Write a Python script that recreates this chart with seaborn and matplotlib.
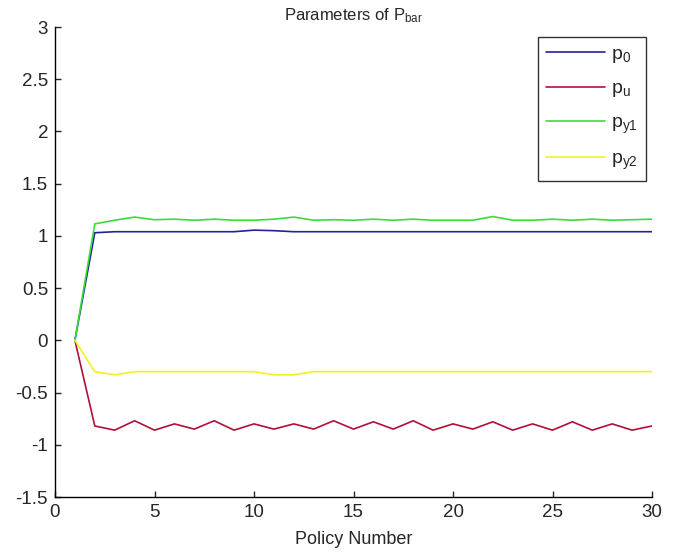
import numpy as np
import pandas as pd
import matplotlib
matplotlib.use("Agg")
import matplotlib.pyplot as plt
import seaborn as sns

# Dados (politicas 1..30)
policy = list(range(1, 31))
p_0 = [0, 1.03, 1.04, 1.04, 1.04, 1.04, 1.04, 1.04, 1.04, 1.055,
       1.05, 1.04, 1.04, 1.04, 1.04, 1.04, 1.04, 1.04, 1.04, 1.04,
       1.04, 1.04, 1.04, 1.04, 1.04, 1.04, 1.04, 1.04, 1.04, 1.04]
p_u = [0, -0.82, -0.86, -0.77, -0.86, -0.80, -0.85, -0.77, -0.86, -0.80,
       -0.85, -0.80, -0.85, -0.77, -0.85, -0.78, -0.85, -0.77, -0.86, -0.80,
       -0.85, -0.78, -0.86, -0.80, -0.86, -0.78, -0.86, -0.80, -0.86, -0.82]
p_y1 = [0, 1.115, 1.15, 1.18, 1.155, 1.16, 1.15, 1.16, 1.15, 1.15,
        1.16, 1.18, 1.15, 1.155, 1.15, 1.16, 1.15, 1.16, 1.15, 1.15,
        1.15, 1.185, 1.15, 1.15, 1.16, 1.15, 1.16, 1.15, 1.155, 1.16]
p_y2 = [0, -0.30, -0.33, -0.30, -0.30, -0.30, -0.30, -0.30, -0.30, -0.30,
        -0.33, -0.33, -0.30, -0.30, -0.30, -0.30, -0.30, -0.30, -0.30, -0.30,
        -0.30, -0.30, -0.30, -0.30, -0.30, -0.30, -0.30, -0.30, -0.30, -0.30]
series_labels = ['$p_0$', '$p_u$', '$p_{y1}$', '$p_{y2}$']
cores = ['#22229a', '#b01038', '#38de38', '#f2f222']

df = pd.DataFrame({
    'Policy': policy * 4,
    'Value': p_0 + p_u + p_y1 + p_y2,
    'Param': [s for s in series_labels for _ in policy],
})

sns.set_style('ticks')
plt.rcParams['font.family'] = ['Liberation Sans', 'DejaVu Sans']
plt.rcParams['mathtext.default'] = 'regular'

fig = plt.figure(figsize=(6.87, 5.55), dpi=100)
ax = fig.add_axes([55 / 687, 1 - 497 / 555, (652 - 55) / 687, (497 - 27) / 555])

sns.lineplot(data=df, x='Policy', y='Value', hue='Param',
             palette=dict(zip(series_labels, cores)), linewidth=1.2, ax=ax)

ax.set_xlim(0, 30)
ax.set_ylim(-1.5, 3)
ax.set_xticks(np.arange(0, 31, 5))
ax.set_yticks(np.arange(-1.5, 3.01, 0.5))
ax.set_yticklabels(['-1.5', '-1', '-0.5', '0', '0.5', '1', '1.5', '2', '2.5', '3'])
ax.tick_params(direction='in', labelsize=13.5, length=4, width=1, pad=5)
ax.set_xlabel('Policy Number', fontsize=13, labelpad=7)
ax.set_ylabel('')
ax.set_title('Parameters of P$_{bar}$', fontsize=12, pad=5)
for s in ['top', 'right']:
    ax.spines[s].set_visible(False)
for s in ['left', 'bottom']:
    ax.spines[s].set_linewidth(1)
    ax.spines[s].set_color('black')

leg = ax.legend(title=None, loc='upper right', bbox_to_anchor=(0.99, 0.979),
                fontsize=14, frameon=True, fancybox=False, edgecolor='black',
                handlelength=3.0, handletextpad=0.3, labelspacing=0.75,
                borderpad=0.45, borderaxespad=0)
leg.get_frame().set_linewidth(1)

fig.savefig('out.png', dpi=100)
